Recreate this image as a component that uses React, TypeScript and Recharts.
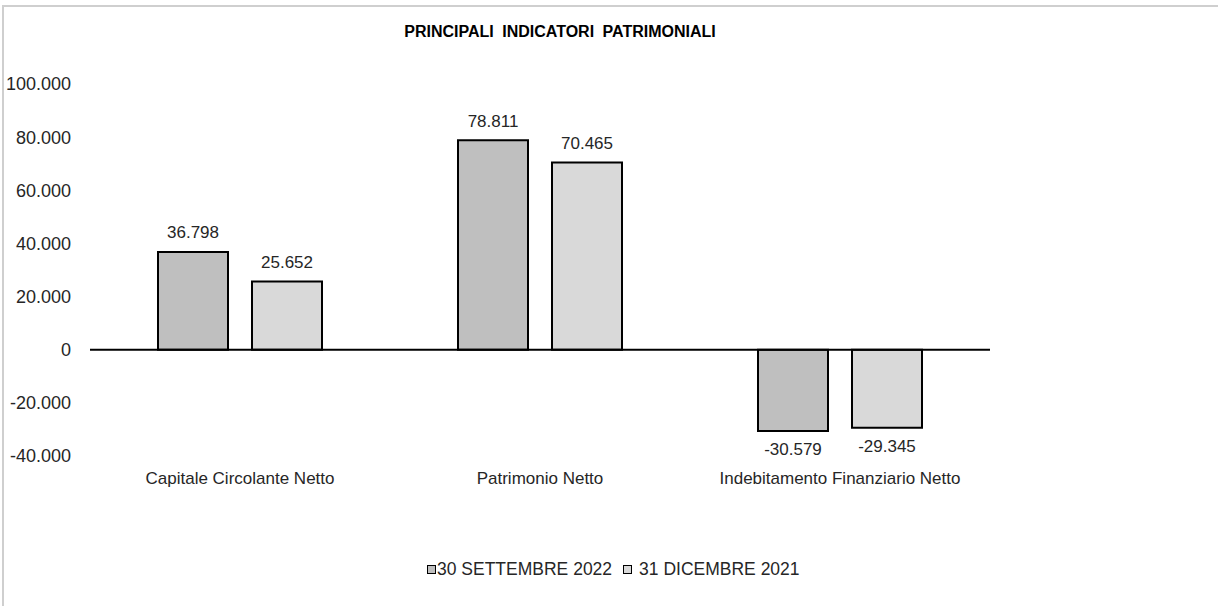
import React from "react";
import { BarChart, Bar, XAxis, YAxis, ReferenceLine, LabelList } from "recharts";

const categories = ["Capitale Circolante Netto", "Patrimonio Netto", "Indebitamento Finanziario Netto"];
const sett2022 = [36798, 78811, -30579];
const dic2021 = [25652, 70465, -29345];
const yTicks = [-40000, -20000, 0, 20000, 40000, 60000, 80000, 100000];

const SERIES_A = "30 SETTEMBRE 2022";
const SERIES_B = "31 DICEMBRE 2021";

const DARK = "#BFBFBF";
const LIGHT = "#D9D9D9";
const TEXT = "#262626";
const FONT = "'Liberation Sans', Arial, sans-serif";

const data = categories.map((c, i) => ({ name: c, a: sett2022[i], b: dic2021[i] }));

const fmt = (v: number) => {
  const s = Math.abs(v).toString().replace(/\B(?=(\d{3})+(?!\d))/g, ".");
  return v < 0 ? "-" + s : s;
};

function ValueLabel(props: any) {
  const { x, y, width, height, value } = props;
  const top = Math.min(y, y + height);
  const bottom = Math.max(y, y + height);
  const cy = value >= 0 ? top - 19 : bottom + 19;
  return (
    <text
      x={x + width / 2}
      y={cy}
      textAnchor="middle"
      dominantBaseline="central"
      fontSize={17}
      fill={TEXT}
      fontFamily={FONT}
    >
      {fmt(value)}
    </text>
  );
}

function LegendItem({ color, label, gap }: { color: string; label: string; gap: number }) {
  return (
    <span style={{ display: "inline-flex", alignItems: "center" }}>
      <span
        style={{
          width: 7,
          height: 7,
          background: color,
          border: "1.5px solid #000",
          display: "inline-block",
          marginRight: gap,
        }}
      />
      {label}
    </span>
  );
}

export default function App() {
  return (
    <div
      style={{
        position: "fixed",
        left: 0,
        top: 0,
        width: 1218,
        height: 606,
        background: "#fff",
        fontFamily: FONT,
        overflow: "hidden",
      }}
    >
      {/* frame (only top & left visible in the source) */}
      <div style={{ position: "absolute", left: 2, top: 5, right: 0, height: 2, background: "#cfcfcf" }} />
      <div style={{ position: "absolute", left: 2, top: 5, bottom: 0, width: 2, background: "#cfcfcf" }} />

      <div
        style={{
          position: "absolute",
          left: 0,
          width: 1120,
          top: 23,
          textAlign: "center",
          fontWeight: "bold",
          fontSize: 16,
          color: "#000",
          wordSpacing: 4,
        }}
      >
        PRINCIPALI INDICATORI PATRIMONIALI
      </div>

      <div style={{ position: "absolute", left: 0, top: 0 }}>
        <BarChart
          width={1218}
          height={606}
          data={data}
          margin={{ top: 84, right: 228, left: 0, bottom: 0 }}
          barSize={70}
          barGap={24}
        >
          <XAxis
            dataKey="name"
            axisLine={false}
            tickLine={false}
            tickSize={0}
            tickMargin={16}
            height={150}
            interval={0}
            tick={{ fontSize: 17, fill: TEXT, fontFamily: FONT }}
          />
          <YAxis
            domain={[-40000, 100000]}
            ticks={yTicks}
            width={90}
            axisLine={false}
            tickLine={false}
            tickSize={0}
            tickMargin={19}
            tickFormatter={fmt}
            tick={{ fontSize: 18, fill: TEXT, fontFamily: FONT }}
          />
          <Bar dataKey="a" name={SERIES_A} fill={DARK} stroke="#000" strokeWidth={2} isAnimationActive={false}>
            <LabelList dataKey="a" content={<ValueLabel />} />
          </Bar>
          <Bar dataKey="b" name={SERIES_B} fill={LIGHT} stroke="#000" strokeWidth={2} isAnimationActive={false}>
            <LabelList dataKey="b" content={<ValueLabel />} />
          </Bar>
          <ReferenceLine y={0} stroke="#000" strokeWidth={2} />
        </BarChart>
      </div>

      <div
        style={{
          position: "absolute",
          left: 427,
          top: 559,
          fontSize: 17.5,
          color: TEXT,
          display: "flex",
          alignItems: "center",
          gap: 11,
          whiteSpace: "nowrap",
        }}
      >
        <LegendItem color={DARK} label={SERIES_A} gap={1} />
        <LegendItem color={LIGHT} label={SERIES_B} gap={7} />
      </div>
    </div>
  );
}
